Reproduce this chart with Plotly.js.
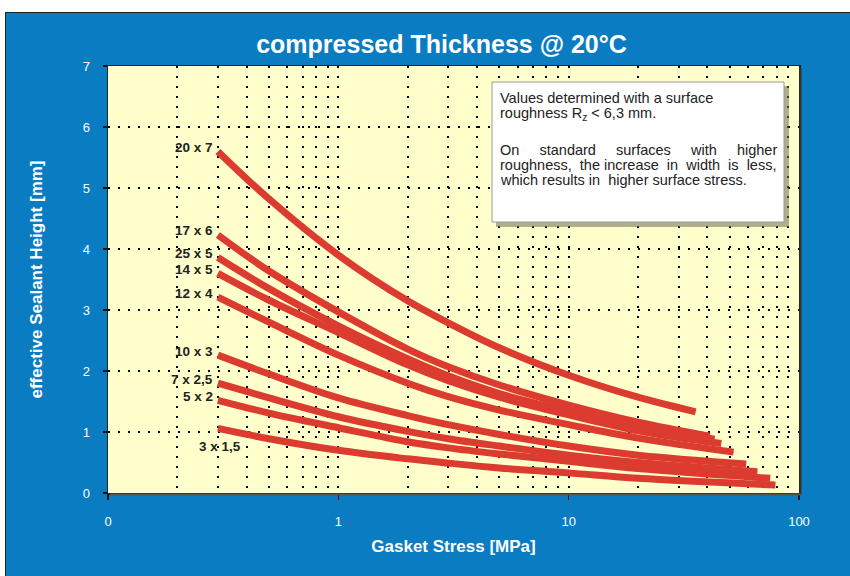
<!DOCTYPE html>
<html>
<head>
<meta charset="utf-8">
<script src="https://cdn.plot.ly/plotly-3.0.1.min.js"></script>
<style>html,body{margin:0;padding:0;background:#fff;}#chart{width:850px;height:576px;}</style>
</head>
<body>
<div id="chart"></div>
<script>
// ---- data ----
const stressX = [0.3, 0.5, 1, 2, 3, 5, 10, 20];
const endStress = [35.6, 41, 43, 46, 52, 59, 66, 75, 79];
const names = ['20 x 7', '17 x 6', '25 x 5', '14 x 5', '12 x 4', '10 x 3', '7 x 2,5', '5 x 2', '3 x 1,5'];
const h_20x7 = [5.60, 4.82, 3.90, 3.15, 2.79, 2.38, 1.93, 1.57, 1.33];
const h_17x6 = [4.23, 3.64, 2.97, 2.36, 2.07, 1.77, 1.44, 1.16, 0.93];
const h_25x5 = [3.86, 3.35, 2.74, 2.20, 1.92, 1.63, 1.34, 1.09, 0.88];
const h_14x5 = [3.60, 3.16, 2.63, 2.10, 1.84, 1.57, 1.28, 1.02, 0.81];
const h_12x4 = [3.21, 2.80, 2.26, 1.80, 1.58, 1.36, 1.12, 0.90, 0.67];
const h_10x3 = [2.26, 1.95, 1.56, 1.27, 1.12, 0.96, 0.77, 0.62, 0.475];
const h_7x25 = [1.80, 1.56, 1.25, 1.01, 0.89, 0.77, 0.62, 0.50, 0.35];
const h_5x2  = [1.52, 1.31, 1.07, 0.84, 0.74, 0.64, 0.52, 0.40, 0.24];
const h_3x15 = [1.06, 0.89, 0.70, 0.56, 0.49, 0.41, 0.33, 0.24, 0.13];
const xTickVals = [0.1, 1, 10, 100];
const xTickText = ['0', '1', '10', '100'];
const yTickVals = [0, 1, 2, 3, 4, 5, 6, 7];
const noteLines = [
  'Values determined with a surface',
  'roughness R<sub>z</sub> &lt; 6,3 mm.',
  'On\u00a0\u00a0\u00a0\u00a0 standard\u00a0\u00a0\u00a0\u00a0 surfaces\u00a0\u00a0\u00a0\u00a0 with\u00a0\u00a0\u00a0\u00a0 higher',
  'roughness,\u00a0 the increase\u00a0 in\u00a0 width\u00a0 is\u00a0 less,',
  'which results in\u00a0 higher surface stress.'
];
const allH = [h_20x7, h_17x6, h_25x5, h_14x5, h_12x4, h_10x3, h_7x25, h_5x2, h_3x15];

// ---- layout geometry (pixels) ----
const W = 850, H = 576;
const L = 108, R = 799, T = 66, B = 493;
const pw = R - L, ph = B - T;
const px = v => (v - L) / pw;
const py = v => (B - v) / ph;

const red = '#dc3c30';
const traces = allH.map((h, i) => ({
  x: stressX.concat([endStress[i]]),
  y: h,
  type: 'scatter',
  mode: 'lines',
  line: {color: red, width: 7, shape: 'spline', smoothing: 1},
  showlegend: false,
  hoverinfo: 'skip'
}));

const minorVals = [];
[0.1, 1, 10].forEach(d => { for (let k = 2; k <= 9; k++) minorVals.push(d * k); });

const labelFont = {family: 'Arial, Liberation Sans, sans-serif', size: 13.5, color: '#222', weight: 'bold'};
const annotations = names.map((n, i) => {
  const last = i === names.length - 1;
  return {
    xref: 'x', yref: 'y',
    x: Math.log10(stressX[0]), y: allH[i][0],
    text: n, showarrow: false, font: labelFont,
    xanchor: last ? 'center' : 'right', yanchor: 'middle',
    xshift: last ? 2 : -3, yshift: last ? -18 : 4
  };
});

const noteY = [98, 114, 150, 165, 180];
noteLines.forEach((t, i) => {
  annotations.push({
    xref: 'paper', yref: 'paper', x: px(498), y: py(noteY[i]),
    xanchor: 'left', yanchor: 'middle', text: t, showarrow: false, align: 'left',
    font: {family: 'Arial, Liberation Sans, sans-serif', size: 14.5, color: '#222'}
  });
});

const shapes = [
  {type: 'rect', xref: 'paper', yref: 'paper', x0: px(0), x1: px(W), y0: py(12), y1: py(0), fillcolor: '#fff', line: {width: 0}, layer: 'above'},
  {type: 'rect', xref: 'paper', yref: 'paper', x0: px(0), x1: px(5), y0: py(H), y1: py(0), fillcolor: '#fff', line: {width: 0}, layer: 'above'},
  {type: 'rect', xref: 'paper', yref: 'paper', x0: px(5.5), x1: px(W + 2), y0: py(H + 2), y1: py(12.5), line: {color: '#222', width: 1}, layer: 'above'},
  {type: 'line', xref: 'paper', yref: 'paper', x0: px(R + 1.5), x1: px(R + 1.5), y0: py(B + 2), y1: py(T + 2), line: {color: '#333', width: 2}, layer: 'above'},
  {type: 'line', xref: 'paper', yref: 'paper', x0: px(L + 2), x1: px(R + 2), y0: py(B + 1.5), y1: py(B + 1.5), line: {color: '#555', width: 2}, layer: 'above'},
  {type: 'rect', xref: 'paper', yref: 'paper', x0: px(496), x1: px(789), y0: py(227), y1: py(86), fillcolor: 'rgba(110,110,90,0.55)', line: {width: 0}, layer: 'above'},
  {type: 'rect', xref: 'paper', yref: 'paper', x0: px(492), x1: px(784), y0: py(222), y1: py(82), fillcolor: '#fff', line: {color: '#9a9a9a', width: 1}, layer: 'above'}
];

const gridDash = '2px,8px';
const layout = {
  width: W, height: H,
  margin: {l: L, r: W - R, t: T, b: H - B, pad: 0},
  paper_bgcolor: '#0a7cc2',
  plot_bgcolor: '#ffffcc',
  title: {
    text: 'compressed Thickness @ 20°C',
    xref: 'container', yref: 'container', x: 441.5 / W, y: 1 - 44 / H,
    xanchor: 'center', yanchor: 'middle',
    font: {family: 'Arial, Liberation Sans, sans-serif', size: 25, color: '#fff', weight: 'bold'}
  },
  xaxis: {
    type: 'log', range: [-1, 2], tickmode: 'array', tickvals: xTickVals, ticktext: xTickText,
    showgrid: true, gridcolor: '#000', gridwidth: 2, griddash: gridDash,
    minor: {tickmode: 'array', tickvals: minorVals, showgrid: true, gridcolor: '#000', gridwidth: 2, griddash: gridDash, ticks: ''},
    ticks: 'outside', ticklen: 5, tickwidth: 1.5, tickcolor: '#111',
    tickfont: {family: 'Arial, Liberation Sans, sans-serif', size: 13, color: '#fff'},
    ticklabelstandoff: 11,
    showline: true, linecolor: '#222', linewidth: 1.5, mirror: true, zeroline: false,
    title: {text: 'Gasket Stress [MPa]', standoff: 12, font: {family: 'Arial, Liberation Sans, sans-serif', size: 17, color: '#fff', weight: 'bold'}}
  },
  yaxis: {
    range: [0, 7], tickmode: 'array', tickvals: yTickVals,
    showgrid: true, gridcolor: '#000', gridwidth: 2, griddash: gridDash,
    ticks: 'outside', ticklen: 4, tickwidth: 1.5, tickcolor: '#111',
    tickfont: {family: 'Arial, Liberation Sans, sans-serif', size: 13, color: '#fff'},
    ticklabelstandoff: 10,
    showline: true, linecolor: '#222', linewidth: 1.5, mirror: true, zeroline: false,
    title: {text: 'effective Sealant Height [mm]', standoff: 35, font: {family: 'Arial, Liberation Sans, sans-serif', size: 17, color: '#fff', weight: 'bold'}}
  },
  annotations: annotations,
  shapes: shapes
};

Plotly.newPlot('chart', traces, layout, {displayModeBar: false, staticPlot: true});
</script>
</body>
</html>
